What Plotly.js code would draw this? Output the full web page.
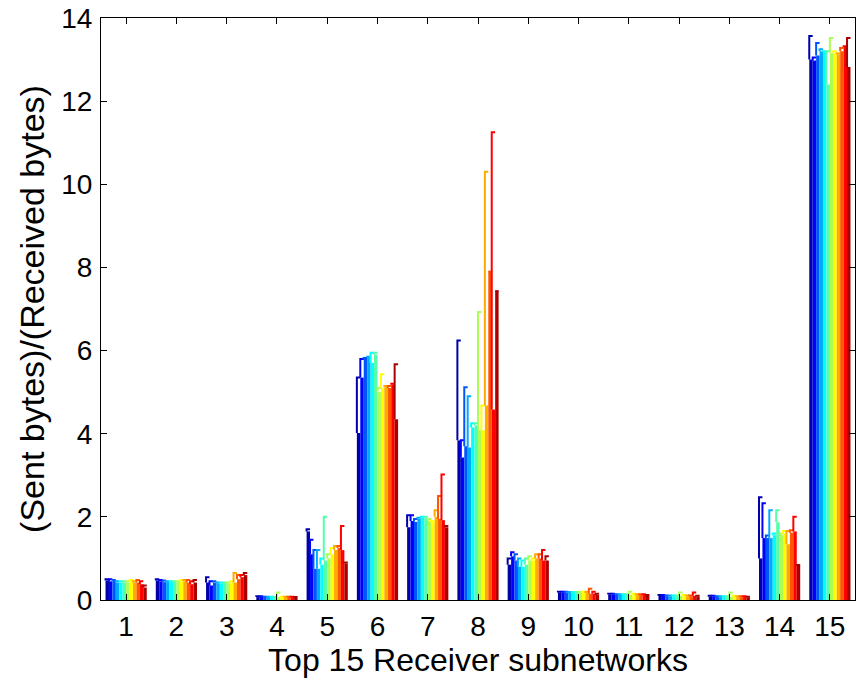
<!DOCTYPE html>
<html>
<head>
<meta charset="utf-8">
<script src="https://cdn.plot.ly/plotly-3.0.1.min.js"></script>
<style>html,body{margin:0;padding:0;background:#fff;}#chart{width:856px;height:680px;}</style>
</head>
<body>
<div id="chart"></div>
<script>
// Categories (receiver subnetworks)
const categories = [1,2,3,4,5,6,7,8,9,10,11,12,13,14,15];
const tickLabels = ["1","2","3","4","5","6","7","8","9","10","11","12","13","14","15"];

// jet(12) colour map, one colour per series
const seriesColors = [
  "rgb(0,0,170)","rgb(0,0,255)","rgb(0,85,255)","rgb(0,170,255)",
  "rgb(0,255,255)","rgb(85,255,170)","rgb(170,255,85)","rgb(255,255,0)",
  "rgb(255,170,0)","rgb(255,85,0)","rgb(255,0,0)","rgb(170,0,0)"
];

// Filled bar heights: one row per subnetwork, 12 series each
const fillG1  = [0.47,0.45,0.47,0.42,0.42,0.42,0.42,0.45,0.42,0.42,0.38,0.30];
const fillG2  = [0.47,0.45,0.43,0.43,0.43,0.43,0.43,0.45,0.45,0.42,0.38,0.42];
const fillG3  = [0.42,0.35,0.42,0.40,0.40,0.40,0.40,0.42,0.42,0.50,0.55,0.60];
const fillG4  = [0.07,0.07,0.07,0.07,0.07,0.07,0.07,0.07,0.07,0.07,0.07,0.06];
const fillG5  = [1.65,1.10,0.75,0.75,0.85,0.95,1.00,1.10,1.20,1.25,1.20,0.88];
const fillG6  = [4.02,5.35,5.80,5.84,5.70,5.90,5.00,5.10,5.12,5.10,5.18,4.35];
const fillG7  = [1.75,1.90,1.88,1.95,1.98,1.97,1.90,1.87,2.00,1.95,1.92,1.75];
const fillG8  = [3.84,3.43,3.70,3.67,4.15,4.20,4.10,4.08,4.68,7.90,4.58,7.43];
const fillG9  = [0.85,1.05,0.95,0.80,0.80,0.85,0.95,0.95,1.00,1.00,0.95,0.95];
const fillG10 = [0.18,0.18,0.17,0.17,0.17,0.17,0.18,0.18,0.17,0.15,0.15,0.12];
const fillG11 = [0.13,0.13,0.12,0.12,0.12,0.12,0.13,0.13,0.12,0.12,0.12,0.10];
const fillG12 = [0.10,0.10,0.09,0.09,0.09,0.09,0.10,0.10,0.09,0.09,0.10,0.08];
const fillG13 = [0.08,0.08,0.07,0.07,0.07,0.07,0.08,0.08,0.07,0.07,0.07,0.06];
const fillG14 = [1.00,1.49,1.49,1.49,1.56,1.87,1.56,1.60,1.34,1.62,1.65,0.82];
const fillG15 = [13.00,12.98,13.10,13.20,13.18,12.40,13.15,13.15,13.13,13.20,13.30,12.82];

// Upper bracket heights (the open outline above each bar)
const topG1  = [0.50,0.50,0.48,0.45,0.45,0.45,0.45,0.48,0.45,0.48,0.45,0.35];
const topG2  = [0.50,0.48,0.47,0.45,0.45,0.45,0.45,0.48,0.48,0.48,0.45,0.48];
const topG3  = [0.55,0.45,0.45,0.42,0.42,0.42,0.42,0.45,0.65,0.60,0.60,0.65];
const topG4  = [0.09,0.09,0.08,0.08,0.08,0.08,0.18,0.08,0.08,0.08,0.08,0.07];
const topG5  = [1.70,1.45,1.20,1.20,1.00,2.00,1.10,1.25,1.30,1.30,1.78,0.90];
const topG6  = [5.35,5.80,5.82,5.85,5.95,5.95,5.10,5.43,5.15,5.15,5.20,5.67];
const topG7  = [2.04,2.04,1.95,1.98,2.00,2.00,1.95,1.90,2.16,2.50,3.02,1.78];
const topG8  = [6.24,3.84,5.12,4.90,4.25,4.25,6.93,4.68,10.30,7.90,11.25,7.43];
const topG9  = [1.00,1.15,1.10,1.00,0.95,1.00,1.05,1.00,1.10,1.10,1.20,1.05];
const topG10 = [0.20,0.20,0.20,0.19,0.19,0.19,0.20,0.20,0.20,0.27,0.20,0.15];
const topG11 = [0.15,0.15,0.14,0.14,0.14,0.14,0.20,0.15,0.14,0.14,0.14,0.12];
const topG12 = [0.12,0.12,0.11,0.11,0.11,0.11,0.18,0.12,0.11,0.11,0.18,0.10];
const topG13 = [0.10,0.10,0.09,0.09,0.09,0.09,0.18,0.10,0.09,0.09,0.09,0.08];
const topG14 = [2.47,2.33,1.55,2.16,1.60,2.16,1.60,1.66,1.66,1.68,2.00,0.84];
const topG15 = [13.57,13.05,13.40,13.25,13.20,13.20,13.52,13.20,13.15,13.28,13.32,13.52];

const fillRows = [fillG1,fillG2,fillG3,fillG4,fillG5,fillG6,fillG7,fillG8,fillG9,fillG10,fillG11,fillG12,fillG13,fillG14,fillG15];
const topRows  = [topG1,topG2,topG3,topG4,topG5,topG6,topG7,topG8,topG9,topG10,topG11,topG12,topG13,topG14,topG15];

const nSeries = seriesColors.length;
const groupWidth = 0.82;
const barW = groupWidth / nSeries;

const bars = [];
const brackets = [];
for (let s = 0; s < nSeries; s++) {
  const off = -groupWidth / 2 + s * barW;
  const fillVals = fillRows.map(r => r[s]);
  const topVals = topRows.map(r => r[s]);
  bars.push({
    type: "bar", x: categories, y: fillVals,
    offset: off, width: barW,
    marker: {color: seriesColors[s], line: {width: 0}},
    hoverinfo: "skip", showlegend: false
  });
  const bx = [], by = [];
  categories.forEach((c, i) => {
    bx.push(c + off, c + off, c + off + barW, null);
    by.push(fillVals[i], topVals[i], topVals[i], null);
  });
  brackets.push({
    type: "scatter", mode: "lines", x: bx, y: by,
    line: {color: seriesColors[s], width: 2},
    hoverinfo: "skip", showlegend: false, cliponaxis: true
  });
}

const fontFam = "Liberation Sans, Arial, sans-serif";
const layout = {
  width: 856, height: 680,
  margin: {l: 101, r: 1, t: 18, b: 80},
  paper_bgcolor: "#fff", plot_bgcolor: "#fff",
  barmode: "overlay",
  font: {family: fontFam, size: 28, color: "#000"},
  xaxis: {
    range: [0.5, 15.5], tickvals: categories, ticktext: tickLabels,
    ticks: "inside", ticklen: 6, tickcolor: "#000",
    showline: true, linecolor: "#000", linewidth: 1, mirror: "ticks",
    showgrid: false, zeroline: false,
    tickfont: {family: fontFam, size: 28, color: "#000"},
    ticklabelstandoff: 1,
    title: {text: "Top 15 Receiver subnetworks", font: {family: fontFam, size: 32, color: "#000"}, standoff: 2}
  },
  yaxis: {
    range: [0, 14], tickvals: [0,2,4,6,8,10,12,14],
    ticks: "inside", ticklen: 6, tickcolor: "#000",
    showline: true, linecolor: "#000", linewidth: 1, mirror: "ticks",
    showgrid: false, zeroline: false,
    tickfont: {family: fontFam, size: 28, color: "#000"},
    ticklabelstandoff: 2,
    title: {text: "(Sent bytes)/(Received bytes)", font: {family: fontFam, size: 34, color: "#000"}, standoff: 6}
  }
};

Plotly.newPlot("chart", bars.concat(brackets), layout, {displayModeBar: false, staticPlot: true});
</script>
</body>
</html>
